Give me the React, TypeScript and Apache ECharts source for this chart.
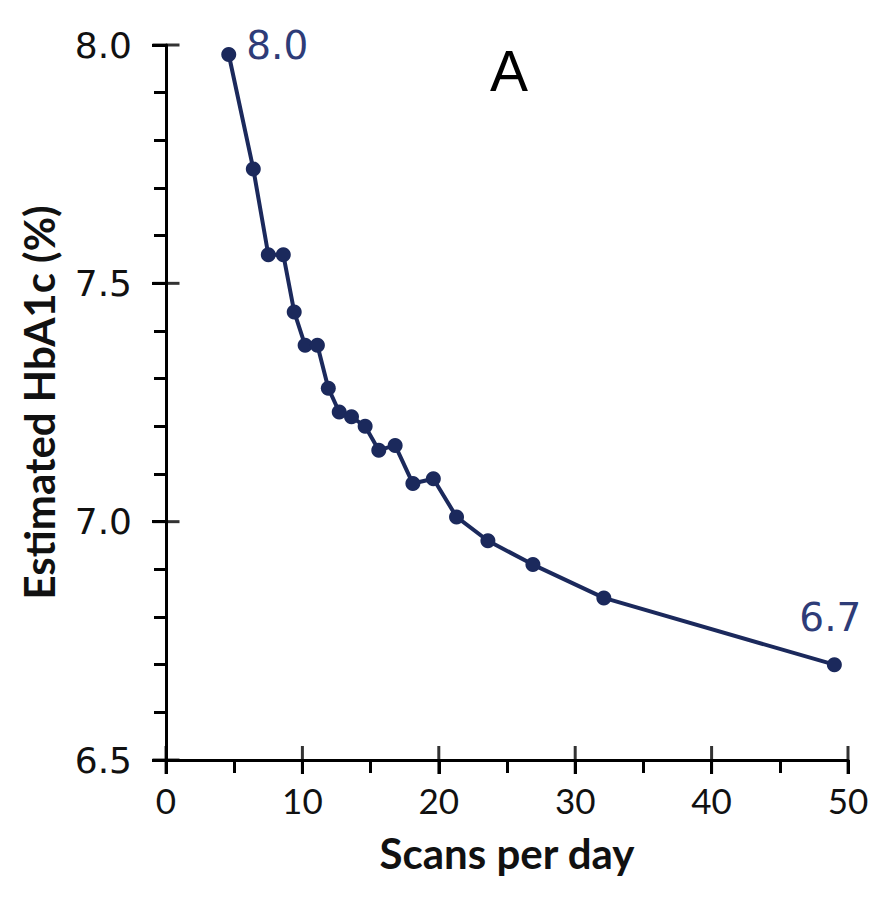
import React, { useEffect, useRef } from "react";
import * as echarts from "echarts";

const scansPerDay = [4.6, 6.4, 7.5, 8.6, 9.4, 10.2, 11.1, 11.9, 12.7, 13.6, 14.6, 15.6, 16.8, 18.1, 19.6, 21.3, 23.6, 26.9, 32.1, 49.0];
const hba1c = [7.98, 7.74, 7.56, 7.56, 7.44, 7.37, 7.37, 7.28, 7.23, 7.22, 7.2, 7.15, 7.16, 7.08, 7.09, 7.01, 6.96, 6.91, 6.84, 6.7];
const xMajorTicks = [0, 10, 20, 30, 40, 50];
const yMajorTicks = [6.5, 7.0, 7.5, 8.0];
const xTitle = "Scans per day";
const yTitle = "Estimated HbA1c (%)";
const panelLetter = "A";

const NAVY = "#1b295c";
const LABEL_NAVY = "#2e3c78";

export default function App() {
  const ref = useRef<HTMLDivElement>(null);
  useEffect(() => {
    document.body.style.margin = "0";
    if (!ref.current) return;
    const chart = echarts.init(ref.current, undefined, { renderer: "svg" });
    const last = scansPerDay.length - 1;
    const points = scansPerDay.map((x, i) => [x, hba1c[i]]);
    const data = points.map((p, i) => {
      const item: any = { value: p };
      if (i === 0) {
        item.label = { show: true, position: "right", distance: 10, offset: [0, -9] };
      } else if (i === last) {
        item.label = { show: true, position: "top", distance: 20, offset: [-4, 0] };
      }
      return item;
    });
    const xMin = xMajorTicks[0];
    const yMin = yMajorTicks[0];
    const xTickMarks = xMajorTicks.map((v) => [v, yMin]);
    const yTickMarks = yMajorTicks.map((v) => [xMin, v]);
    const tickStyle = { color: "#000", width: 3 };
    chart.setOption({
      animation: false,
      backgroundColor: "#fff",
      grid: { left: 166, right: 43, top: 45, bottom: 145, containLabel: false },
      xAxis: {
        type: "value",
        min: 0,
        max: 50,
        interval: 10,
        position: "bottom",
        axisLine: { show: true, onZero: false, lineStyle: tickStyle },
        axisTick: { show: true, length: 14, lineStyle: tickStyle },
        minorTick: { show: true, splitNumber: 2, length: 13, lineStyle: tickStyle },
        splitLine: { show: false },
        axisLabel: { margin: 22, fontSize: 35, fontFamily: "Lato", color: "#111" },
        name: xTitle,
        nameLocation: "middle",
        nameGap: 72,
        nameTextStyle: { fontSize: 42, fontWeight: "bold", fontFamily: "Lato", color: "#111" },
      },
      yAxis: {
        type: "value",
        min: 6.5,
        max: 8.0,
        interval: 0.5,
        position: "left",
        axisLine: { show: true, onZero: false, lineStyle: tickStyle },
        axisTick: { show: true, length: 14, lineStyle: tickStyle },
        minorTick: { show: true, splitNumber: 5, length: 12, lineStyle: tickStyle },
        splitLine: { show: false },
        axisLabel: {
          margin: 34,
          fontSize: 36,
          fontFamily: "DejaVu Sans",
          color: "#111",
          formatter: (v: number) => v.toFixed(1),
        },
        name: yTitle,
        nameLocation: "middle",
        nameGap: 106,
        nameRotate: 90,
        nameTextStyle: { fontSize: 42, fontWeight: "bold", fontFamily: "Lato", color: "#111" },
      },
      graphic: [
        {
          type: "text",
          left: 490,
          top: 42,
          style: { text: panelLetter, fontSize: 57, fontFamily: "Liberation Sans", fill: "#000" },
        },
      ],
      series: [
        {
          type: "scatter",
          data: xTickMarks,
          symbol: "rect",
          symbolSize: [3, 28],
          itemStyle: { color: "#000" },
          silent: true,
          clip: false,
          z: 1,
        },
        {
          type: "scatter",
          data: yTickMarks,
          symbol: "rect",
          symbolSize: [27, 3],
          itemStyle: { color: "#000" },
          silent: true,
          clip: false,
          z: 1,
        },
        {
          type: "line",
          data,
          symbol: "circle",
          symbolSize: 15,
          itemStyle: { color: NAVY },
          lineStyle: { color: NAVY, width: 4 },
          label: {
            show: false,
            fontSize: 39,
            fontFamily: "DejaVu Sans",
            color: LABEL_NAVY,
            formatter: (p: any) => Number(p.value[1]).toFixed(1),
          },
          z: 3,
        },
      ],
    });
    return () => chart.dispose();
  }, []);
  return <div ref={ref} style={{ width: 891, height: 905 }} />;
}
